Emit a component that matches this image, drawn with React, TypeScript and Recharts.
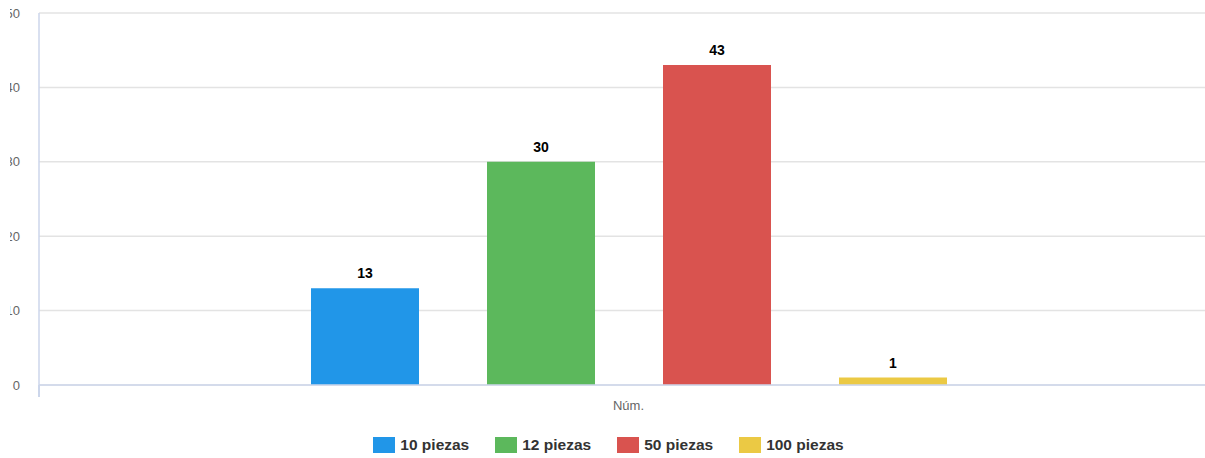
import React from 'react';
import { BarChart, Bar, XAxis, YAxis, CartesianGrid, Legend, LabelList } from 'recharts';

const categories = ['Núm.'];
const seriesNames = ['10 piezas', '12 piezas', '50 piezas', '100 piezas'];
const seriesValues = [13, 30, 43, 1];
const seriesColors = ['#2196e8', '#5cb85c', '#d9534f', '#ebc944'];
const yTicks = [0, 10, 20, 30, 40, 50];

const seriesKeys = seriesNames.map((_, i) => `s${i}`);
const data = categories.map((name) => {
  const row: Record<string, string | number> = { name };
  seriesKeys.forEach((k, i) => {
    row[k] = seriesValues[i];
  });
  return row;
});

const FONT = '"Liberation Sans", Arial, sans-serif';

const LegendContent = () => {
  return (
    <div
      style={{
        display: 'flex',
        justifyContent: 'center',
        alignItems: 'center',
        gap: 26,
        height: 16,
        fontFamily: FONT,
      }}
    >
      {seriesNames.map((name, i) => (
        <div key={name} style={{ display: 'flex', alignItems: 'center', height: 16 }}>
          <span style={{ display: 'inline-block', width: 22, height: 16, background: seriesColors[i], marginRight: 5 }} />
          <span style={{ fontSize: 15.5, fontWeight: 'bold', color: '#333', lineHeight: '16px' }}>{name}</span>
        </div>
      ))}
    </div>
  );
};

export default function App() {
  return (
    <div
      style={{
        position: 'fixed',
        left: 10,
        top: 0,
        width: 1195,
        height: 458,
        overflow: 'hidden',
        background: '#fff',
      }}
    >
      <div style={{ position: 'absolute', left: -11, top: 0 }}>
        <BarChart
          width={1219}
          height={458}
          data={data}
          margin={{ top: 13, right: 0, bottom: 5, left: 0 }}
          barGap={68}
          style={{ fontFamily: FONT }}
        >
          <CartesianGrid vertical={false} stroke="#e3e3e3" strokeWidth={1.5} />
          <XAxis
            dataKey="name"
            height={52}
            tickLine={false}
            axisLine={{ stroke: '#ccd6eb', strokeWidth: 1.5 }}
            tickMargin={10}
            tick={{ fill: '#666', fontSize: 13 }}
          />
          <YAxis
            width={40}
            domain={[0, 50]}
            ticks={yTicks}
            tickLine={false}
            axisLine={{ stroke: '#ccd6eb', strokeWidth: 1.5 }}
            tickMargin={13}
            tick={{ fill: '#666', fontSize: 13 }}
          />
          <Legend verticalAlign="bottom" content={<LegendContent />} />
          {seriesKeys.map((k, i) => (
            <Bar
              key={k}
              dataKey={k}
              name={seriesNames[i]}
              fill={seriesColors[i]}
              barSize={108}
              isAnimationActive={false}
            >
              <LabelList
                dataKey={k}
                position="top"
                offset={10}
                style={{ fontWeight: 'bold', fontSize: 14, fill: '#000' }}
              />
            </Bar>
          ))}
        </BarChart>
      </div>
      <div
        style={{
          position: 'absolute',
          left: 28.25,
          top: 385,
          width: 1.5,
          height: 12,
          background: '#ccd6eb',
        }}
      />
    </div>
  );
}
